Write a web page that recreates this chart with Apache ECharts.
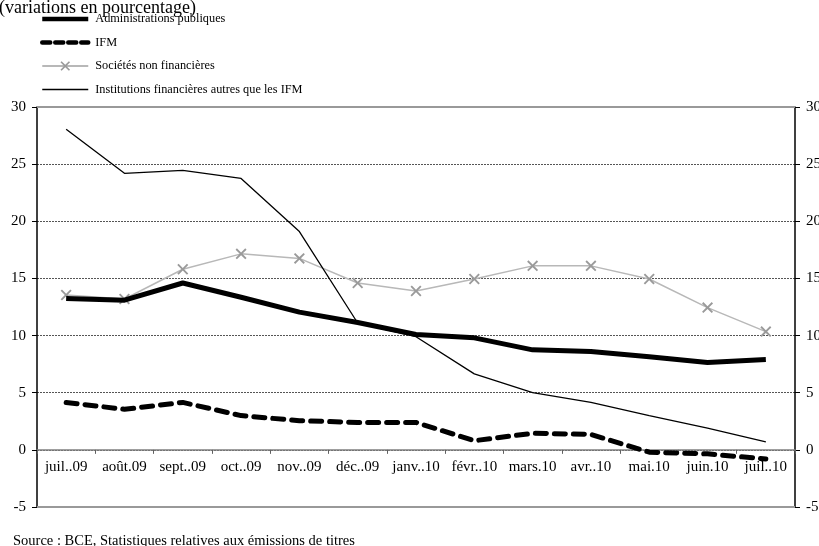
<!DOCTYPE html>
<html><head><meta charset="utf-8">
<script src="https://cdn.jsdelivr.net/npm/echarts@6/dist/echarts.min.js"></script>
<style>html,body{margin:0;padding:0;background:#fff}#c{width:819px;height:546px}</style>
</head><body><div id="c"></div>
<script>
const categories = ["juil..09","août.09","sept..09","oct..09","nov..09","déc..09","janv..10","févr..10","mars.10","avr..10","mai.10","juin.10","juil..10"];
const adminPubliques = [13.25,13.1,14.6,13.35,12.05,11.15,10.1,9.8,8.75,8.6,8.15,7.65,7.9];
const ifm = [4.15,3.55,4.15,3.0,2.55,2.4,2.4,0.8,1.45,1.35,-0.2,-0.35,-0.8];
const societesNonFin = [13.55,13.2,15.8,17.15,16.75,14.6,13.9,14.95,16.1,16.1,14.95,12.45,10.35];
const instFinAutres = [28.05,24.2,24.45,23.75,19.1,11.1,9.9,6.65,5.0,4.15,3.0,1.9,0.7];
const yTicks = { min: -5, max: 30, interval: 5 };

const font = "'Liberation Serif','Times New Roman',serif";
const chart = echarts.init(document.getElementById('c'), null, {renderer:'canvas'});
const xMark = 'path://M0,1.2 L1.2,0 L5,3.8 L8.8,0 L10,1.2 L6.2,5 L10,8.8 L8.8,10 L5,6.2 L1.2,10 L0,8.8 L3.8,5 Z';
const gridTop = 107, gridBottom = 39, gridH = 546 - gridTop - gridBottom;
// move the category axis to the zero line
const zeroOffset = -gridH * (0 - yTicks.min) / (yTicks.max - yTicks.min);
const hidden = { color: 'rgba(0,0,0,0)', borderColor: 'rgba(0,0,0,0)' };
chart.setOption({
  animation: false,
  textStyle: { fontFamily: font },
  title: [
    { text: '(variations en pourcentage)', left: -6, top: -6, textStyle: { fontFamily: font, fontSize: 18, fontWeight: 'normal', color: '#000' } },
    { text: 'Source : BCE, Statistiques relatives aux émissions de titres', left: 8, top: 529, textStyle: { fontFamily: font, fontSize: 14.5, fontWeight: 'normal', color: '#000' } }
  ],
  legend: {
    orient: 'vertical', left: 35, top: 8, itemWidth: 46, itemHeight: 12, itemGap: 11.5,
    textStyle: { fontFamily: font, fontSize: 12.3, color: '#000', padding: [0,0,0,2] },
    data: [
      { name: 'Administrations publiques', itemStyle: hidden, lineStyle: { width: 4.5 } },
      { name: 'IFM', itemStyle: hidden, lineStyle: { width: 4.5, type: [8,5] } },
      { name: 'Sociétés non financières' },
      { name: 'Institutions financières autres que les IFM', itemStyle: hidden, lineStyle: { width: 1.5 } }
    ]
  },
  grid: { left: 37, right: 24, top: gridTop, bottom: gridBottom, containLabel: false, outerBoundsMode: 'none' },
  xAxis: {
    type: 'category', data: categories, boundaryGap: true, offset: zeroOffset,
    axisLine: { onZero: false, lineStyle: { color: '#808080', width: 1.5 } },
    axisTick: { show: true, length: 4, lineStyle: { color: '#606060' } },
    axisLabel: { fontFamily: font, fontSize: 15, color: '#000', margin: 10, interval: 0 }
  },
  yAxis: [
    { type: 'value', position: 'left', min: yTicks.min, max: yTicks.max, interval: yTicks.interval,
      axisLine: { show: true, lineStyle: { color: '#000', width: 1.5 } },
      axisTick: { show: true, length: 5, lineStyle: { color: '#000' } },
      axisLabel: { fontFamily: font, fontSize: 15, color: '#000', margin: 11 },
      splitLine: { show: true, lineStyle: { color: '#555', type: [2,1], width: 1 } } },
    { type: 'value', position: 'right', min: yTicks.min, max: yTicks.max, interval: yTicks.interval,
      axisLine: { show: true, lineStyle: { color: '#000', width: 1.5 } },
      axisTick: { show: true, length: 5, lineStyle: { color: '#000' } },
      axisLabel: { fontFamily: font, fontSize: 15, color: '#000', margin: 11 },
      splitLine: { show: false } }
  ],
  series: [
    { name: 'Administrations publiques', type: 'line', data: adminPubliques, symbol: 'none', z: 4,
      lineStyle: { color: '#000', width: 5 }, itemStyle: { color: '#000' },
      markLine: { silent: true, symbol: 'none', label: { show: false }, z: 1,
        lineStyle: { color: '#999', type: 'solid', width: 2 },
        data: [{ yAxis: yTicks.max }, { yAxis: yTicks.min }] } },
    { name: 'IFM', type: 'line', data: ifm, symbol: 'none', z: 3,
      lineStyle: { color: '#000', width: 5, type: [11,8], cap: 'round' }, itemStyle: { color: '#000' } },
    { name: 'Sociétés non financières', type: 'line', data: societesNonFin, symbol: xMark, symbolSize: 11, showSymbol: true, z: 2,
      lineStyle: { color: '#b8b8b8', width: 1.5 }, itemStyle: { color: '#9a9a9a' } },
    { name: 'Institutions financières autres que les IFM', type: 'line', data: instFinAutres, symbol: 'none', z: 5,
      lineStyle: { color: '#000', width: 1.3 }, itemStyle: { color: '#000' } }
  ]
});
</script></body></html>
